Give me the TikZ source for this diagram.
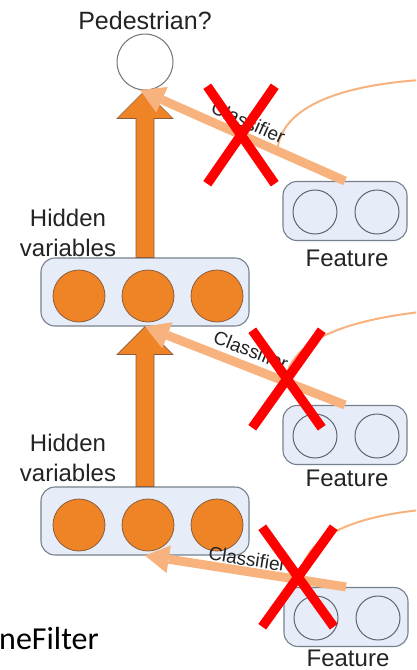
\documentclass[tikz,border=0pt]{standalone}
\usepackage{fontspec}
\setmainfont{Liberation Sans}
\newfontfamily\slidefont{Carlito}
\usetikzlibrary{arrows.meta,calc,shapes.misc}
\definecolor{NetOrange}{RGB}{239,132,38}
\definecolor{NetOrangeLine}{RGB}{140,92,58}
\definecolor{NetPale}{RGB}{247,178,125}
\definecolor{NetBox}{RGB}{230,237,248}
\definecolor{NetBoxLine}{RGB}{118,128,140}
\definecolor{NetText}{RGB}{35,35,35}
\definecolor{NetRed}{RGB}{255,0,0}
\tikzset{
  hidbox/.style={draw=NetBoxLine, fill=NetBox, rounded corners=14pt, line width=1.1pt,
                 minimum width=208pt, minimum height=68pt, inner sep=0pt},
  featbox/.style={draw=NetBoxLine, fill=NetBox, rounded corners=14pt, line width=1.1pt,
                 minimum width=124pt, minimum height=59pt, inner sep=0pt},
  hidunit/.style={circle, draw=NetOrangeLine, fill=NetOrange, line width=0.8pt,
                 minimum size=52pt, inner sep=0pt},
  featunit/.style={circle, draw=NetBoxLine!80!black, fill=NetBox, line width=1pt,
                 minimum size=44pt, inner sep=0pt},
  outunit/.style={circle, draw=black!55, fill=white, line width=1pt,
                 minimum size=56pt, inner sep=0pt},
  uparrow/.style={draw=NetOrangeLine, fill=NetOrange, line width=0.7pt},
  clsarrow/.style={-{Triangle[length=24pt, width=28pt, line width=0pt]}, line width=9pt, NetPale},
  clstext/.style={font=\fontsize{19}{22}\selectfont, text=NetText, sloped, inner sep=0pt},
  fio/.style={NetPale, line width=2pt},
  cruz/.style={cross out, draw=NetRed, line width=9.5pt, inner sep=0pt},
  captext/.style={font=\fontsize{24}{30}\selectfont, text=NetText, inner sep=0pt, align=center},
}
\begin{document}
\begin{tikzpicture}[x=1pt, y=-1pt]
  \useasboundingbox (0,0) rectangle (416,670);
  \clip (0,0) rectangle (416,670);

  % ------------------------------------------------------------------ saída
  \node[outunit] (ped) at (145,62) {};
  \node[captext, font=\fontsize{25}{30}\selectfont] (pedtext) at (145,21) {Pedestrian?};

  % ------------------------------------------------------------------ camadas ocultas
  \foreach \k/\y in {1/292, 2/521}{
    \node[hidbox] (hid\k) at (145,\y) {};
    \foreach \i/\x in {1/79, 2/148, 3/217}{
      \node[hidunit] (hid\k-\i) at (\x,\y+4) {};
    }
  }
  \node[captext] (hidtext1) at (68,233) {Hidden\\variables};
  \node[captext] (hidtext2) at (68,458) {Hidden\\variables};

  % ------------------------------------------------------------------ features
  \foreach \k/\x/\y/\t in {1/345/211/258, 2/345/435/478, 3/346/617/658}{
    \node[featbox] (feat\k) at (\x,\y) {};
    \node[featunit] (feat\k-a) at (\x-30,\y+1) {};
    \node[featunit] (feat\k-b) at (\x+32,\y+1) {};
    \node[captext] (feattext\k) at (\x+2,\t) {Feature};
  }

  % setas grossas entre camadas
  \foreach \a/\b in {hid1/ped, hid2/hid1}{
    \draw[uparrow] ($(\a.north)+(-9,0)$) -- ($(\b.south)+(-9,28)$) -- ($(\b.south)+(-28,28)$)
      -- (\b.south) -- ($(\b.south)+(28,28)$) -- ($(\b.south)+(9,28)$) -- ($(\a.north)+(9,0)$) -- cycle;
  }

  % fios finos que saem dos classificadores
  \path (feat1.north) -- coordinate[pos=0.33] (tap1) (ped.260);
  \path (feat2.north) -- coordinate[pos=0.30] (tap2) (hid1.south);
  \path (feat3.north) -- coordinate[pos=0.23] (tap3) (hid2.south);
  \coordinate (far1) at (420,80);
  \coordinate (far2) at (420,312);
  \coordinate (far3) at (420,510);
  \draw[fio] (tap1) .. controls +(3,-42) and +(-85,6) .. (far1);
  \draw[fio] (tap2) .. controls +(5,-37) and +(-85,10) .. (far2);
  \draw[fio] (tap3) .. controls +(3,-40) and +(-75,8) .. (far3);

  % classificadores descartados
  \draw[clsarrow] (feat1.north) -- (ped.260) node[clstext, pos=0.5, above=3pt] {Classifier};
  \draw[clsarrow] (feat2.north) -- (hid1.south) node[clstext, pos=0.5, above=5pt] {Classifier};
  \draw[clsarrow] (feat3.north) -- (hid2.south) node[clstext, pos=0.5, above=1pt] {Classifier};

  \node[cruz, minimum width=58pt, minimum height=88pt] (cross1) at (241,135) {};
  \node[cruz, minimum width=60pt, minimum height=88pt] (cross2) at (287,379) {};
  \node[cruz, minimum width=62pt, minimum height=90pt] (cross3) at (298,577) {};

  \node[font=\slidefont\fontsize{32}{40}\selectfont, anchor=base east, inner sep=0pt] (slidetext)
    at (99,649) {neFilter};
\end{tikzpicture}
\end{document}
